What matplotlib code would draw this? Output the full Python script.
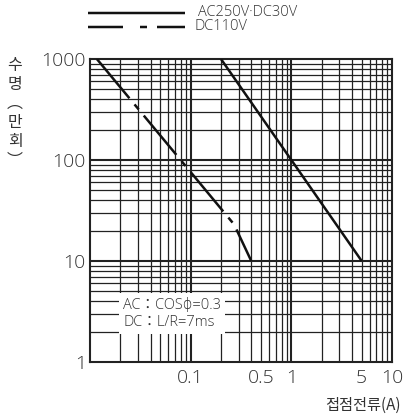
import matplotlib
matplotlib.use("Agg")
import matplotlib.pyplot as plt
from matplotlib.lines import Line2D
import numpy as np

# contact life curves (current in A, life in 10^4 operations)
ac_current = [0.2, 5]
ac_life = [1000, 10]
dc_current = [0.0117, 0.27, 0.4]
dc_life = [1000, 23, 10]

x_ticks = [0.1, 0.5, 1, 5, 10]
x_labels = ['0.1', '0.5', '1', '5', '10']
y_ticks = [1, 10, 100, 1000]
y_labels = ['1', '10', '100', '1000']

legend_labels = ['AC250V·DC30V', 'DC110V']
note_text = 'AC：COSϕ=0.3\nDC：L/R=7ms'
x_title = '접점전류(A)'
y_title = '수\n명\n︵\n만\n회\n︶'

plt.rcParams['font.family'] = ['Open Sans', 'Noto Sans CJK KR', 'DejaVu Sans']
plt.rcParams['font.weight'] = 'light'
plt.rcParams['lines.scale_dashes'] = False

txt = '#333333'
grid_c = '#222222'
px = 0.72  # points per pixel at dpi 100
cjk = ['Noto Sans CJK KR', 'DejaVu Sans']

fig = plt.figure(figsize=(4.06, 4.17), dpi=100)
ax = fig.add_axes([90 / 406, 55 / 417, 302 / 406, 303 / 417])
ax.set_xscale('log')
ax.set_yscale('log')
ax.set_xlim(0.01, 10)
ax.set_ylim(1, 1000)

# grid, drawn by hand so decades get heavier lines
for dec in [0.01, 0.1, 1]:
    for k in range(1, 10):
        v = dec * k
        if v <= 0.01:
            continue
        ax.axvline(v, color=grid_c, lw=1.5 if k == 1 else 0.9, zorder=1)
for dec in [1, 10, 100]:
    for k in range(1, 10):
        v = dec * k
        if v <= 1:
            continue
        ax.axhline(v, color=grid_c, lw=1.5 if k == 1 else 0.9, zorder=1)

for s in ax.spines.values():
    s.set_color(grid_c)
    s.set_linewidth(1.5)

ax.plot(ac_current, ac_life, color='#111111', lw=2.5 * px, zorder=3,
        solid_capstyle='butt')
ax.plot(dc_current, dc_life, color='#111111', lw=2.5 * px, zorder=3,
        linestyle=(0, (51 * px, 8 * px, 6.5 * px, 8 * px)))

ax.set_xticks(x_ticks)
ax.set_xticklabels(x_labels)
ax.set_xticks([], minor=True)
ax.set_yticks(y_ticks)
ax.set_yticklabels(y_labels)
ax.set_yticks([], minor=True)
ax.tick_params(axis='both', length=0, labelsize=14, labelcolor=txt)
ax.tick_params(axis='x', pad=5)
ax.tick_params(axis='y', pad=3)

# note box
ax.text(0.0213, 3.0, note_text, fontsize=10.5, color=txt, linespacing=1.2,
        va='center', ha='left', zorder=4,
        bbox=dict(facecolor='white', edgecolor='none', pad=3))

# axis titles
fig.text(401 / 406, 1 - 405 / 417, x_title, fontsize=11, color=txt,
         ha='right', va='center', family=cjk, weight='light')
fig.text(15 / 406, 1 - 57 / 417, y_title, fontsize=11.5, color=txt,
         ha='center', va='top', linespacing=1.15, family=cjk,
         weight='light')

# legend at top
y1 = 1 - 13 / 417
y2 = 1 - 27 / 417
fig.add_artist(Line2D([88 / 406, 185 / 406], [y1, y1], color='#111111',
                      lw=2.5 * px, solid_capstyle='butt'))
fig.add_artist(Line2D([88 / 406, 185 / 406], [y2, y2], color='#111111',
                      lw=2.5 * px,
                      linestyle=(0, (35 * px, 17 * px, 7 * px, 10 * px))))
fig.text(198 / 406, y1, legend_labels[0], fontsize=10.5, color=txt,
         ha='left', va='center')
fig.text(195 / 406, y2, legend_labels[1], fontsize=10.5, color=txt,
         ha='left', va='center')

fig.savefig('out.png', dpi=100)
